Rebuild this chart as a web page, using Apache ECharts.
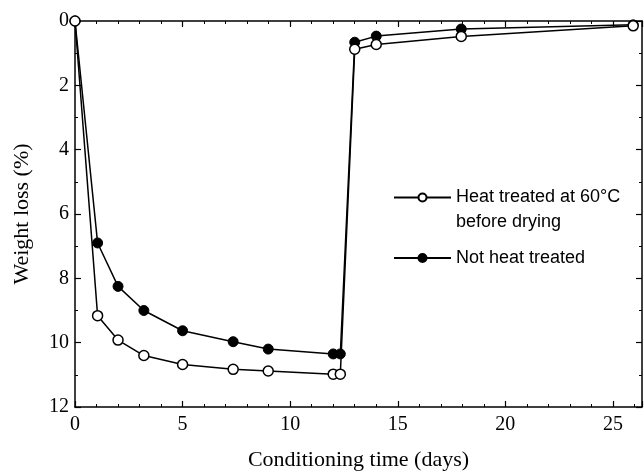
<!DOCTYPE html>
<html>
<head>
<meta charset="utf-8">
<script src="https://cdn.jsdelivr.net/npm/echarts@6/dist/echarts.min.js"></script>
<style>
  html, body { margin: 0; padding: 0; background: #fff; }
  #chart { width: 644px; height: 476px; }
</style>
</head>
<body>
<div id="chart"></div>
<script>
// conditioning time (days), same sampling for both specimens
var days = [0, 1.05, 2.0, 3.2, 5.0, 7.35, 8.98, 12.0, 12.33, 13.0, 14.0, 17.95, 25.94];
// weight loss (%) - heat treated at 60 C before drying (open circles)
var heatTreated = [0, 9.16, 9.92, 10.4, 10.68, 10.83, 10.88, 10.98, 10.98, 0.88, 0.73, 0.48, 0.15];
// weight loss (%) - not heat treated (filled circles)
var notTreated = [0, 6.9, 8.25, 9.0, 9.63, 9.97, 10.2, 10.35, 10.35, 0.66, 0.47, 0.25, 0.12];

var nameOpen = 'Heat treated at 60°C\nbefore drying';
var nameFilled = 'Not heat treated';

function pairs(xs, ys) {
  return xs.map(function (x, i) { return [x, ys[i]]; });
}

var serif = '"Liberation Serif", "Times New Roman", serif';
var sans = '"Liberation Sans", Arial, sans-serif';

var chart = echarts.init(document.getElementById('chart'));

var baseX = {
  type: 'value',
  min: 0,
  max: 26.35,
  interval: 5,
  axisLine: { show: true, onZero: false, lineStyle: { color: '#000', width: 1.5 } },
  axisTick: { show: true, inside: true, length: 6, lineStyle: { color: '#000', width: 1.2 } },
  minorTick: { show: true, splitNumber: 5, length: 3, lineStyle: { color: '#000', width: 1 } },
  splitLine: { show: false }
};
var baseY = {
  type: 'value',
  inverse: true,
  min: 0,
  max: 12,
  interval: 2,
  axisLine: { show: true, onZero: false, lineStyle: { color: '#000', width: 1.5 } },
  axisTick: { show: true, inside: true, length: 6, lineStyle: { color: '#000', width: 1.2 } },
  minorTick: { show: true, splitNumber: 2, length: 3, lineStyle: { color: '#000', width: 1 } },
  splitLine: { show: false }
};

chart.setOption({
  animation: false,
  backgroundColor: '#fff',
  grid: { left: 75, right: 2, top: 21, bottom: 59 },
  legend: [{
    left: 393,
    top: 160,
    padding: 0,
    itemWidth: 57,
    itemHeight: 10,
    data: [{ name: nameOpen }],
    // leading empty line keeps the symbol level with the first text line
    formatter: function (name) { return '\n' + name; },
    textStyle: { fontFamily: sans, fontSize: 18, color: '#000', lineHeight: 25 }
  }, {
    left: 393,
    top: 245,
    padding: 0,
    itemWidth: 57,
    itemHeight: 10,
    data: [{ name: nameFilled }],
    textStyle: { fontFamily: sans, fontSize: 18, color: '#000', lineHeight: 26 }
  }],
  xAxis: [
    Object.assign({}, baseX, {
      position: 'bottom',
      name: 'Conditioning time (days)',
      nameLocation: 'middle',
      nameGap: 42,
      nameTextStyle: { fontFamily: serif, fontSize: 22, color: '#000' },
      axisLabel: { fontFamily: serif, fontSize: 20, color: '#000', margin: 8, showMaxLabel: false }
    }),
    Object.assign({}, baseX, { position: 'top', axisLabel: { show: false } })
  ],
  yAxis: [
    Object.assign({}, baseY, {
      position: 'left',
      name: 'Weight loss (%)',
      nameLocation: 'middle',
      nameGap: 42,
      nameTextStyle: { fontFamily: serif, fontSize: 22, color: '#000' },
      axisLabel: { fontFamily: serif, fontSize: 20, color: '#000', margin: 6 }
    }),
    Object.assign({}, baseY, { position: 'right', axisLabel: { show: false } })
  ],
  series: [{
    name: nameFilled,
    type: 'line',
    data: pairs(days, notTreated),
    symbol: 'circle',
    symbolSize: 10,
    lineStyle: { color: '#000', width: 1.5 },
    itemStyle: { color: '#000', borderColor: '#000', borderWidth: 1 },
    z: 2
  }, {
    name: nameOpen,
    type: 'line',
    data: pairs(days, heatTreated),
    symbol: 'circle',
    symbolSize: 10,
    lineStyle: { color: '#000', width: 1.5 },
    itemStyle: { color: '#fff', borderColor: '#000', borderWidth: 1.5 },
    z: 3
  }]
});
</script>
</body>
</html>
